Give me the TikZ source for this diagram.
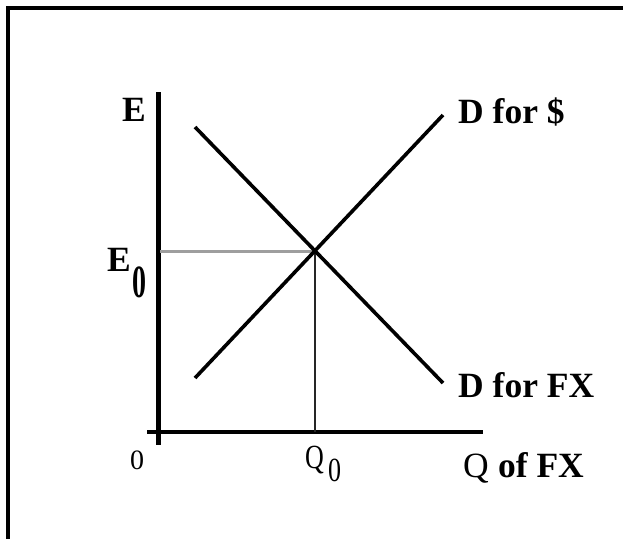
\documentclass[tikz,border=0pt]{standalone}
\usepackage{fontspec}
\setmainfont{Liberation Serif}
\usepackage{graphicx}
\begin{document}
\begin{tikzpicture}[x=1pt,y=-1pt,
  lbl/.style={inner sep=0pt,anchor=base west,font=\fontsize{35.5}{36}\selectfont\bfseries},
  lblr/.style={inner sep=0pt,anchor=base west,font=\fontsize{35.5}{36}\selectfont},
  axis/.style={line width=4.5pt,black},
  curve/.style={line width=3.6pt,black},
  frameline/.style={line width=3.5pt,black}]
\useasboundingbox (0,0) rectangle (623,539);
% frame (top and left only)
\coordinate (f1) at (6,8);
\coordinate (f2) at (623,8);
\coordinate (f3) at (8,6);
\coordinate (f4) at (8,539);
\draw[frameline] (f1) -- (f2);
\draw[frameline] (f3) -- (f4);
% axes
\coordinate (ytop) at (158,92);
\coordinate (ybot) at (158,445);
\coordinate (xl) at (147,432);
\coordinate (xr) at (483,432);
\draw[axis,line width=5pt] (ytop) -- (ybot);
\draw[axis,line width=4pt] (xl) -- (xr);
% equilibrium guides
\coordinate (eq) at (315,251);
\coordinate (ey) at (160,251);
\coordinate (qx) at (315,432);
\draw[line width=3pt,black!38] (ey) -- (eq);
\draw[line width=1.2pt,black!85] (eq) -- (qx);
% demand curves
\coordinate (fx1) at (195,127);
\coordinate (fx2) at (443,383);
\coordinate (d1) at (195,378);
\coordinate (d2) at (443,115);
\draw[curve] (fx1) -- (fx2);
\draw[curve] (d1) -- (d2);
% labels
\node[lbl] (E) at (122,121) {E};
\node[lbl] (E0) at (107,271) {E};
\node[inner sep=0pt,anchor=base west,font=\fontsize{28}{28}\selectfont\bfseries] (E0s) at (132,297) {\scalebox{1}[1.65]{0}};
\node[lbl] (Ddol) at (458,123) {D for \$};
\node[lbl] (Dfx) at (458,397) {D for FX};
\node[lblr] (Q) at (463,477) {Q};
\node[lbl] (QofFX) at (Q.base east) [anchor=base west] {\ of FX};
\node[inner sep=0pt,anchor=base west,font=\fontsize{26}{26}\selectfont] (Q0) at (305,468) {\scalebox{1}[1.3]{Q}};
\node[inner sep=0pt,anchor=base west,font=\fontsize{26}{26}\selectfont] (Q0s) at (328,481) {\scalebox{1}[1.3]{0}};
\node[inner sep=0pt,anchor=base west,font=\fontsize{28}{28}\selectfont] (O) at (130,469) {0};
\end{tikzpicture}
\end{document}
